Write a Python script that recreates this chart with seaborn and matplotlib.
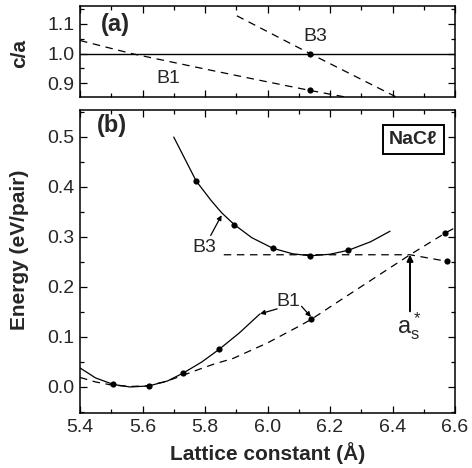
import numpy as np
import matplotlib
matplotlib.use('Agg')
import matplotlib.pyplot as plt
import seaborn as sns

# ---- data ----
# panel (a): c/a ratio
ca_b1_x = [5.40, 5.565, 5.80, 5.976, 6.136, 6.27]
ca_b1_y = [1.044, 1.000, 0.948, 0.910, 0.876, 0.850]
ca_b3_x = [5.902, 6.136, 6.414]
ca_b3_y = [1.127, 1.000, 0.853]
ca_pts_x = [6.136, 6.136]
ca_pts_y = [1.000, 0.876]

# panel (b): energy
b3_curve_x = [5.700, 5.736, 5.772, 5.82, 5.853, 5.894, 5.95, 6.017, 6.08, 6.136, 6.20, 6.259, 6.33, 6.392]
b3_curve_y = [0.499, 0.455, 0.411, 0.372, 0.348, 0.324, 0.298, 0.277, 0.266, 0.262, 0.265, 0.273, 0.290, 0.311]
b3_pts_x = [5.772, 5.894, 6.017, 6.136, 6.259]
b3_pts_y = [0.411, 0.324, 0.277, 0.262, 0.273]

b3_dash_x = [5.86, 6.456, 6.573]
b3_dash_y = [0.264, 0.264, 0.251]

b1_curve_x = [5.40, 5.45, 5.507, 5.56, 5.62, 5.68, 5.731, 5.79, 5.845, 5.91, 5.976]
b1_curve_y = [0.038, 0.018, 0.005, 0.000, 0.002, 0.012, 0.028, 0.050, 0.075, 0.108, 0.146]
b1_pts_x = [5.507, 5.62, 5.731, 5.845]
b1_pts_y = [0.005, 0.002, 0.028, 0.075]

b1_dash_x = [5.40, 5.45, 5.50, 5.56, 5.61, 5.67, 5.72, 5.78, 5.83, 5.89, 6.00, 6.10, 6.14, 6.23, 6.456, 6.568, 6.60]
b1_dash_y = [0.019, 0.010, 0.004, 0.001, 0.002, 0.010, 0.021, 0.035, 0.046, 0.057, 0.088, 0.121, 0.135, 0.172, 0.264, 0.307, 0.318]
extra_pts_x = [6.14, 6.568, 6.573]
extra_pts_y = [0.135, 0.307, 0.251]

sns.set_style("ticks")
plt.rcParams['font.family'] = ['Liberation Sans', 'DejaVu Sans']
plt.rcParams['axes.linewidth'] = 1.1
plt.rcParams['mathtext.fontset'] = 'custom'
plt.rcParams['mathtext.rm'] = 'Liberation Sans'

dash = (0, (6, 4.5))
lw = 0.9

fig = plt.figure(figsize=(4.72, 4.68), dpi=100)
ax1 = fig.add_axes([0.1695, 0.7921, 0.7945, 0.1951])
ax2 = fig.add_axes([0.1695, 0.1175, 0.7945, 0.6474])

# ---- panel (a) ----
ax1.axhline(1.0, color='k', lw=1.0)
sns.lineplot(x=ca_b1_x, y=ca_b1_y, ax=ax1, color='k', lw=lw, linestyle=dash, sort=False, estimator=None)
sns.lineplot(x=ca_b3_x, y=ca_b3_y, ax=ax1, color='k', lw=lw, linestyle=dash, sort=False, estimator=None)
sns.scatterplot(x=ca_pts_x, y=ca_pts_y, ax=ax1, color='k', s=20, linewidth=0, zorder=3)
ax1.text(5.512, 1.097, '(a)', fontsize=17, fontweight='bold', ha='center', va='center')
ax1.text(5.683, 0.916, 'B1', fontsize=14, ha='center', va='center')
ax1.text(6.152, 1.057, 'B3', fontsize=14, ha='center', va='center')
ax1.set_xlim(5.4, 6.6)
ax1.set_ylim(0.853, 1.16)
ax1.set_yticks([0.9, 1.0, 1.1])
ax1.set_yticks(np.arange(0.9, 1.16, 0.05), minor=True)
ax1.set_xticks(np.arange(5.4, 6.61, 0.2))
ax1.set_xticks(np.arange(5.4, 6.61, 0.1), minor=True)
ax1.set_xticklabels([])
ax1.set_ylabel('c/a', fontsize=15, fontweight='bold')
ax1.yaxis.set_label_coords(-0.135, 0.485)

# ---- panel (b) ----
sns.lineplot(x=b3_curve_x, y=b3_curve_y, ax=ax2, color='k', lw=lw, sort=False, estimator=None)
sns.lineplot(x=b1_curve_x, y=b1_curve_y, ax=ax2, color='k', lw=lw, sort=False, estimator=None)
sns.lineplot(x=b3_dash_x, y=b3_dash_y, ax=ax2, color='k', lw=lw, linestyle=dash, sort=False, estimator=None)
sns.lineplot(x=b1_dash_x, y=b1_dash_y, ax=ax2, color='k', lw=lw, linestyle=dash, sort=False, estimator=None)
sns.scatterplot(x=b3_pts_x + b1_pts_x + extra_pts_x, y=b3_pts_y + b1_pts_y + extra_pts_y,
                ax=ax2, color='k', s=20, linewidth=0, zorder=3)

arrow = dict(arrowstyle='-|>', color='k', lw=0.9, mutation_scale=7, shrinkA=0, shrinkB=0)
ax2.annotate('B3', xy=(5.853, 0.343), xytext=(5.798, 0.279), fontsize=14,
             ha='center', va='center', arrowprops=arrow)
ax2.annotate('', xy=(5.976, 0.146), xytext=(6.031, 0.156), arrowprops=arrow)
ax2.annotate('', xy=(6.139, 0.140), xytext=(6.109, 0.161), arrowprops=arrow)
ax2.text(6.067, 0.171, 'B1', fontsize=14, ha='center', va='center')
ax2.annotate('', xy=(6.456, 0.264), xytext=(6.456, 0.151),
             arrowprops=dict(arrowstyle='-|>', color='k', lw=1.4, mutation_scale=9,
                             shrinkA=0, shrinkB=0))
ax2.text(6.455, 0.122, r'$\mathregular{a_s^*}$', fontsize=17, ha='center', va='center')
ax2.text(5.501, 0.523, '(b)', fontsize=17, fontweight='bold', ha='center', va='center')
ax2.text(6.467, 0.494, 'NaCℓ', fontsize=14, fontweight='bold', ha='center', va='center',
         bbox=dict(boxstyle='square,pad=0.3', fc='white', ec='k', lw=1.4))

ax2.set_xlim(5.4, 6.6)
ax2.set_ylim(-0.052, 0.553)
ax2.set_xticks(np.round(np.arange(5.4, 6.61, 0.2), 1))
ax2.set_xticks(np.arange(5.4, 6.61, 0.1), minor=True)
ax2.set_yticks(np.round(np.arange(0.0, 0.51, 0.1), 1))
ax2.set_yticks(np.arange(-0.05, 0.551, 0.05), minor=True)
ax2.set_xticklabels([f'{v:.1f}' for v in np.arange(5.4, 6.61, 0.2)])
ax2.set_yticklabels([f'{v:.1f}' for v in np.arange(0.0, 0.51, 0.1)])
ax2.set_xlabel('Lattice constant (Å)', fontsize=15, fontweight='bold', labelpad=5)
ax2.set_ylabel('Energy (eV/pair)', fontsize=15, fontweight='bold')
ax2.yaxis.set_label_coords(-0.135, 0.538)

for ax in (ax1, ax2):
    ax.tick_params(which='both', direction='in', top=True, right=True, labelsize=14,
                   color='k', width=0.9)
    ax.tick_params(which='major', length=5, pad=4)
    ax.tick_params(which='minor', length=3)
    for s in ax.spines.values():
        s.set_color('k')

fig.savefig('out.png', dpi=100)
